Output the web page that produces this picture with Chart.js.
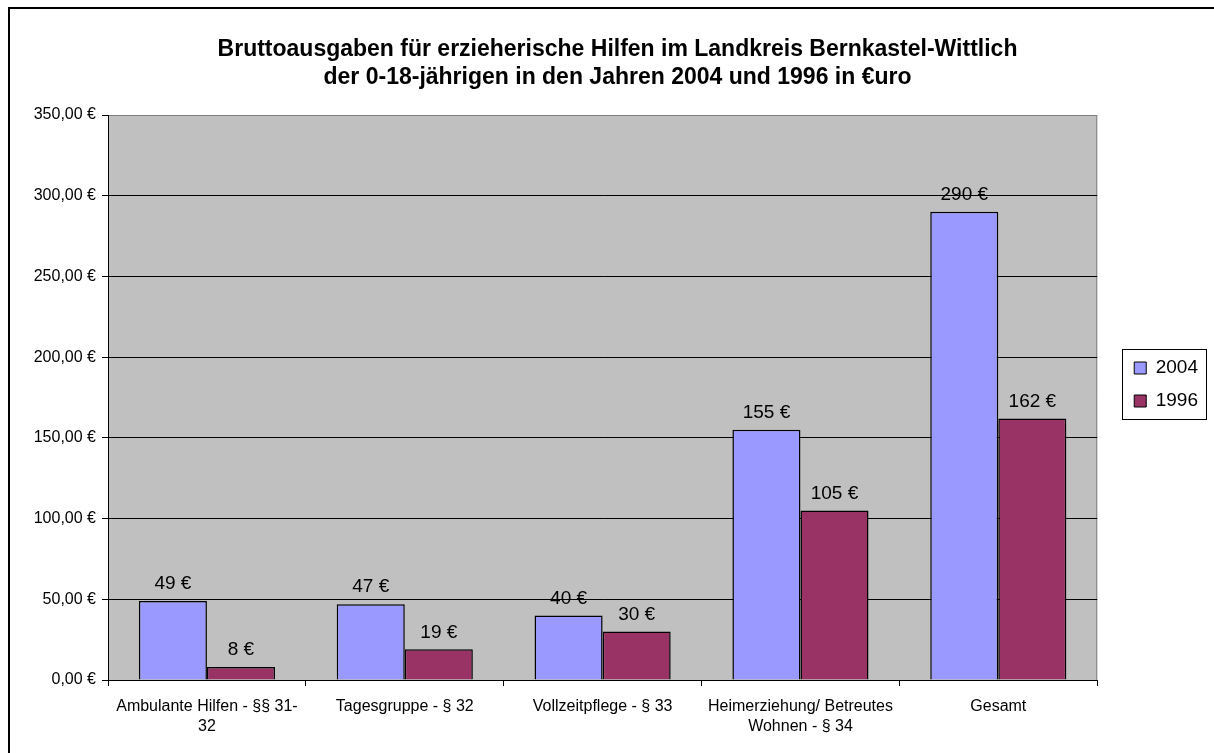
<!DOCTYPE html>
<html>
<head>
<meta charset="utf-8">
<script src="https://cdn.jsdelivr.net/npm/chart.js@4/dist/chart.umd.min.js"></script>
<style>
html,body{margin:0;padding:0;background:#fff;}
#wrap{position:relative;width:1214px;height:753px;}
</style>
</head>
<body>
<div id="wrap"><canvas id="c"></canvas></div>
<script>
const titleLines = [
  "Bruttoausgaben für erzieherische Hilfen im Landkreis Bernkastel-Wittlich",
  "der 0-18-jährigen in den Jahren 2004 und 1996 in €uro"
];
const categories = [
  ["Ambulante Hilfen - §§ 31-", "32"],
  "Tagesgruppe - § 32",
  "Vollzeitpflege - § 33",
  ["Heimerziehung/ Betreutes", "Wohnen - § 34"],
  "Gesamt"
];
const seriesNames = ["2004", "1996"];
const values2004 = [49, 47, 40, 155, 290];
const values1996 = [8, 19, 30, 105, 162];
const yTickValues = [0, 50, 100, 150, 200, 250, 300, 350];
const yTickLabels = ["0,00 €", "50,00 €", "100,00 €", "150,00 €", "200,00 €", "250,00 €", "300,00 €", "350,00 €"];

const FONT = "'Liberation Sans', Arial, Helvetica, sans-serif";

const decorPlugin = {
  id: 'decor',
  afterLayout(chart) {
    const lg = chart.legend;
    if (lg) {
      const dx = (chart.chartArea.right + 23) - lg.left;
      lg.left += dx; lg.right += dx;
      const dy = -13;
      lg.top += dy; lg.bottom += dy;
    }
    const tb = chart.titleBlock;
    if (tb) { tb.left += 20; tb.right += 20; }
  },
  beforeDraw(chart) {
    const ctx = chart.ctx;
    const a = chart.chartArea;
    ctx.save();
    ctx.fillStyle = '#ffffff';
    ctx.fillRect(0, 0, chart.width, chart.height);
    ctx.strokeStyle = '#000000';
    ctx.lineWidth = 2;
    ctx.strokeRect(9, 8, chart.width + 10, chart.height + 10);
    ctx.fillStyle = '#C0C0C0';
    ctx.fillRect(a.left, a.top, a.right - a.left, a.bottom - a.top);
    ctx.strokeStyle = '#808080';
    ctx.lineWidth = 1;
    ctx.beginPath();
    ctx.moveTo(a.left, a.top + 0.5);
    ctx.lineTo(a.right - 0.5, a.top + 0.5);
    ctx.lineTo(a.right - 0.5, a.bottom);
    ctx.stroke();
    ctx.restore();
  },
  afterDatasetsDraw(chart) {
    const ctx = chart.ctx;
    ctx.save();
    ctx.font = '19px ' + FONT;
    ctx.fillStyle = '#000000';
    ctx.textAlign = 'center';
    ctx.textBaseline = 'middle';
    chart.data.datasets.forEach((ds, di) => {
      const meta = chart.getDatasetMeta(di);
      meta.data.forEach((bar, i) => {
        ctx.fillText(ds.data[i] + ' €', bar.x, bar.y - 17);
      });
    });
    ctx.restore();
  },
  afterDraw(chart) {
    const lg = chart.legend;
    if (!lg || !lg.legendHitBoxes || !lg.legendHitBoxes.length) return;
    const hb = lg.legendHitBoxes;
    let l = Infinity, t = Infinity, r = -Infinity, b = -Infinity;
    hb.forEach(h => {
      l = Math.min(l, h.left); t = Math.min(t, h.top);
      r = Math.max(r, h.left + h.width); b = Math.max(b, h.top + h.height);
    });
    const ctx = chart.ctx;
    ctx.save();
    ctx.strokeStyle = '#000000';
    ctx.lineWidth = 1;
    ctx.strokeRect(Math.round(l - 12) + 0.5, Math.round(t - 10) + 0.5, Math.round(r - l + 20), Math.round(b - t + 18));
    ctx.restore();
  }
};

new Chart(document.getElementById('c'), {
  type: 'bar',
  data: {
    labels: categories,
    datasets: [
      { label: seriesNames[0], data: values2004, backgroundColor: '#9999FF', borderColor: '#000000', borderWidth: 1.5 },
      { label: seriesNames[1], data: values1996, backgroundColor: '#993366', borderColor: '#000000', borderWidth: 1.5 }
    ]
  },
  options: {
    responsive: true,
    maintainAspectRatio: false,
    animation: false,
    datasets: { bar: { categoryPercentage: 0.688, barPercentage: 1.0 } },
    layout: { padding: { left: 10, right: 29, top: 10, bottom: 0 } },
    plugins: {
      title: {
        display: true,
        text: titleLines,
        color: '#000000',
        font: { family: FONT, size: 23, weight: 'bold', lineHeight: '28px' },
        padding: { top: 26, bottom: 23 }
      },
      legend: {
        display: true,
        position: 'right',
        fullSize: false,
        align: 'center',
        labels: {
          color: '#000000',
          font: { family: FONT, size: 19 },
          boxWidth: 12,
          boxHeight: 12,
          padding: 14,
          generateLabels(chart) {
            const items = Chart.defaults.plugins.legend.labels.generateLabels(chart);
            items.forEach(it => { it.lineWidth = 1; it.strokeStyle = '#000000'; });
            return items;
          }
        }
      },
      tooltip: { enabled: false }
    },
    scales: {
      x: {
        offset: true,
        grid: { display: true, offset: true, drawOnChartArea: false, tickLength: 6, color: '#000000', lineWidth: 1 },
        border: { display: true, color: '#000000', width: 1 },
        ticks: { color: '#000000', font: { family: FONT, size: 16, lineHeight: 1.25 }, padding: 11, maxRotation: 0, autoSkip: false },
        afterFit(scale) { scale.height = 73; }
      },
      y: {
        min: 0,
        max: 350,
        afterBuildTicks(scale) { scale.ticks = yTickValues.map(v => ({ value: v })); },
        grid: {
          color: (c) => (c.tick && c.tick.value === 350 ? '#808080' : '#000000'),
          tickColor: '#000000',
          tickLength: 6,
          lineWidth: 1
        },
        border: { display: true, color: '#000000', width: 1 },
        ticks: {
          color: '#000000',
          font: { family: FONT, size: 16 },
          padding: 6,
          callback: (v) => { const i = yTickValues.indexOf(v); return i >= 0 ? yTickLabels[i] : ''; }
        },
        afterFit(scale) { scale.width = 98; }
      }
    }
  },
  plugins: [decorPlugin]
});
</script>
</body>
</html>
